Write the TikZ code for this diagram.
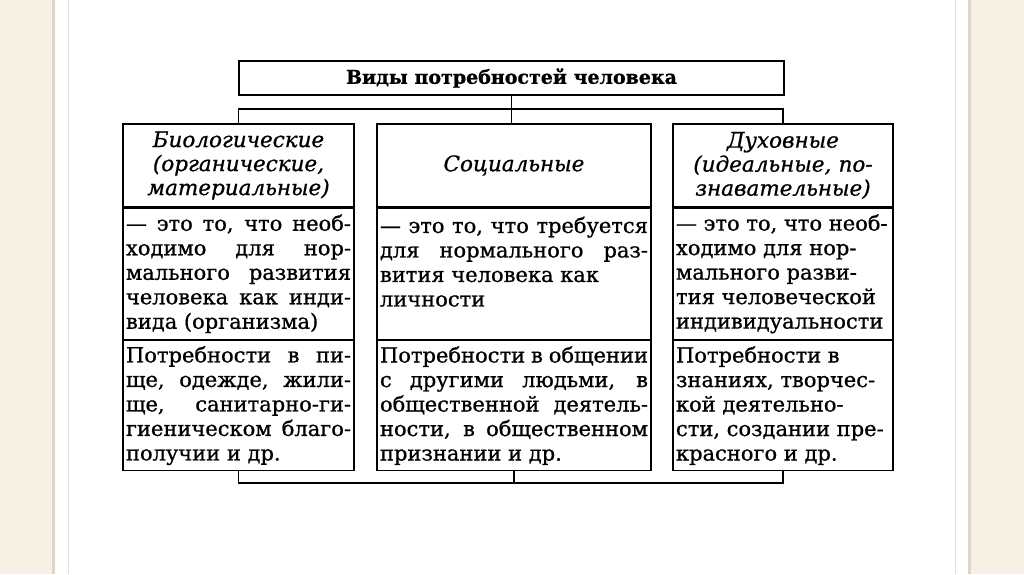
\documentclass[tikz,border=0pt]{standalone}
\usepackage{fontspec}
\setmainfont{DejaVu Serif}[FakeBold=0.8]
\usetikzlibrary{positioning}

\definecolor{paper}{HTML}{F6F1E4}
\definecolor{papershade}{HTML}{DCD7CA}
\definecolor{margin}{HTML}{E4E1DA}

\tolerance=10000\relax
\hbadness=10000\relax

\tikzset{
  link/.style={line width=1.3pt},
  titlebox/.style={draw, line width=1.3pt, inner sep=0pt,
    font=\fontsize{19}{23}\selectfont\bfseries},
  head/.style={draw, line width=1.3pt, inner xsep=4pt, inner ysep=0pt,
    align=center, minimum height=83pt,
    font=\fontsize{21.5}{24}\selectfont\itshape},
  cell/.style={draw, line width=1.3pt, inner xsep=3pt, inner ysep=0pt,
    align=justify, font=\fontsize{21}{24.5}\selectfont},
}

\begin{document}
\begin{tikzpicture}[x=1pt, y=1pt]
        % 背景
        \useasboundingbox (0,0) rectangle (1024,574);
        \fill[white] (0,0) rectangle (1024,574);
        \fill[paper] (0,0) rectangle (54,574);
        \fill[papershade] (52,0) rectangle (55,574);
        \fill[paper] (969,0) rectangle (1024,574);
        \fill[papershade] (968,0) rectangle (971,574);
        \draw[margin, line width=0.8pt] (68,0) -- (68,574);
        \draw[margin, line width=0.8pt] (955,0) -- (955,574);

        % タイトル
        \node[titlebox, minimum width=545pt, minimum height=34pt] (title) at (511.5,496) {Виды потребностей человека};

        % 見出し
        \node[head, text width=223pt] (bh) at (238.5,408.5) {Биологические\\(органические,\\материальные)};
        \node[head, text width=266pt] (sh) at (514,408.5) {Социальные};
        \node[head, text width=212pt] (dh) at (783,408.5) {Духовные\\(идеальные, по-\\знавательные)};

        % 定義
        \node[cell, text width=225pt, minimum height=131pt, below=0pt of bh] (bd)
            {— это то, что необ-\linebreak ходимо для нор-\linebreak мального развития\linebreak человека как инди-\linebreak вида (организма)};
        \node[cell, text width=268pt, minimum height=131pt, below=0pt of sh] (sd)
            {— это то, что требуется\linebreak для нормального раз-\linebreak вития человека как\\ личности\\ \mbox{}};
        \node[cell, text width=214pt, minimum height=131pt, below=0pt of dh] (dd)
            {— это то, что необ-\\ ходимо для нор-\\ мального разви-\\ тия человеческой\\ индивидуальности};

        % 例
        \node[cell, text width=225pt, minimum height=130pt, below=0pt of bd] (bx)
            {Потребности в пи-\linebreak ще, одежде, жили-\linebreak ще, санитарно-ги-\linebreak гиеническом благо-\linebreak получии и др.};
        \node[cell, text width=268pt, minimum height=130pt, below=0pt of sd] (sx)
            {Потребности в общении\linebreak с другими людьми, в\linebreak общественной деятель-\linebreak ности, в общественном\linebreak признании и др.};
        \node[cell, text width=214pt, minimum height=130pt, below=0pt of dd] (dx)
            {Потребности в\\ знаниях, творчес-\\ кой деятельно-\\ сти, создании пре-\\ красного и др.};

        % 接続線
        \coordinate (topbus) at (0,465);
        \coordinate (botbus) at (0,91);
        \draw[link] (title.south) -- (title.south |- sh.north);
        \draw[link] (bh.north) -- (bh.north |- topbus) -- (dh.north |- topbus) -- (dh.north);
        \draw[link] (sx.south) -- (sx.south |- botbus);
        \draw[link] (bx.south) -- (bx.south |- botbus) -- (dx.south |- botbus) -- (dx.south);

    \end{tikzpicture}
\end{document}
